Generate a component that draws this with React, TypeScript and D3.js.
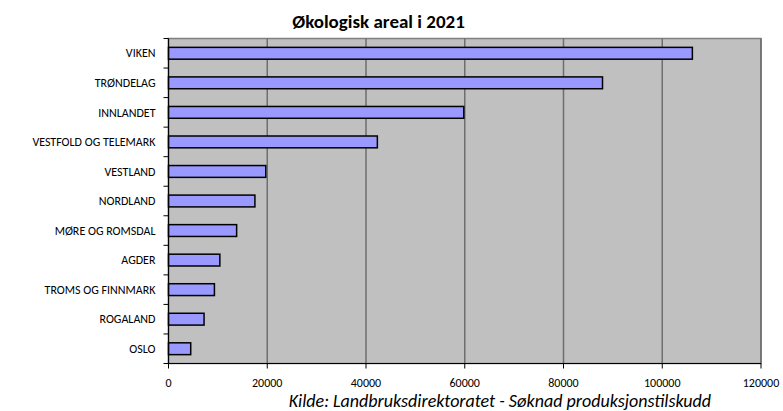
import * as d3 from "d3";
import { useRef, useEffect } from "react";

const regions = [
  "VIKEN",
  "TRØNDELAG",
  "INNLANDET",
  "VESTFOLD OG TELEMARK",
  "VESTLAND",
  "NORDLAND",
  "MØRE OG ROMSDAL",
  "AGDER",
  "TROMS OG FINNMARK",
  "ROGALAND",
  "OSLO",
];
const areal = [106100, 87900, 59800, 42300, 19700, 17500, 13800, 10400, 9300, 7200, 4500];
const xTicks = [0, 20000, 40000, 60000, 80000, 100000, 120000];

const title = "Økologisk areal i 2021";
const source = "Kilde: Landbruksdirektoratet - Søknad produksjonstilskudd";

const width = 783;
const height = 411;
const marginLeft = 168.5;
const marginRight = 22;
const marginTop = 38.5;
const marginBottom = 47.5;
const font = "Calibri, Carlito, 'Open Sans', sans-serif";

export default function App() {
  const ref = useRef<SVGSVGElement | null>(null);

  useEffect(() => {
    const svg = d3.select(ref.current);
    svg.selectAll("*").remove();

    const x = d3.scaleLinear().domain([0, 120000]).range([marginLeft, width - marginRight]);
    const y = d3.scaleBand<string>()
      .domain(regions)
      .range([marginTop, height - marginBottom])
      .paddingInner(0.6)
      .paddingOuter(0.3);
    const step = y.step();

    // plot area
    svg.append("rect")
      .attr("x", x(0))
      .attr("y", marginTop)
      .attr("width", x(120000) - x(0))
      .attr("height", height - marginBottom - marginTop)
      .attr("fill", "#c0c0c0")
      .attr("stroke", "#808080")
      .attr("stroke-width", 1.5);

    // gridlines
    svg.append("g")
      .selectAll("line")
      .data(xTicks.slice(1))
      .join("line")
      .attr("x1", d => x(d))
      .attr("x2", d => x(d))
      .attr("y1", marginTop)
      .attr("y2", height - marginBottom)
      .attr("stroke", "#6e6e6e")
      .attr("stroke-width", 1.5);

    // bars
    svg.append("g")
      .selectAll("rect")
      .data(regions)
      .join("rect")
      .attr("x", x(0))
      .attr("y", d => y(d)!)
      .attr("width", (d, i) => x(areal[i]) - x(0))
      .attr("height", y.bandwidth())
      .attr("fill", "#9999ff")
      .attr("stroke", "#000")
      .attr("stroke-width", 1.5);

    // y axis
    const yAxis = svg.append("g");
    yAxis.append("line")
      .attr("x1", x(0)).attr("x2", x(0))
      .attr("y1", marginTop).attr("y2", height - marginBottom)
      .attr("stroke", "#000").attr("stroke-width", 1.2);
    yAxis.selectAll("line.tick")
      .data(d3.range(regions.length + 1))
      .join("line")
      .attr("class", "tick")
      .attr("x1", x(0) - 5).attr("x2", x(0))
      .attr("y1", i => marginTop + i * step)
      .attr("y2", i => marginTop + i * step)
      .attr("stroke", "#000");
    yAxis.selectAll("text")
      .data(regions)
      .join("text")
      .attr("x", x(0) - 13)
      .attr("y", d => y(d)! + y.bandwidth() / 2)
      .attr("dy", "0.35em")
      .attr("text-anchor", "end")
      .attr("font-family", font)
      .attr("font-size", 12)
      .attr("fill", "#000")
      .text(d => d);

    // x axis
    const xAxis = svg.append("g");
    xAxis.append("line")
      .attr("x1", x(0)).attr("x2", x(120000))
      .attr("y1", height - marginBottom).attr("y2", height - marginBottom)
      .attr("stroke", "#000").attr("stroke-width", 1.2);
    xAxis.selectAll("line.tick")
      .data(xTicks)
      .join("line")
      .attr("class", "tick")
      .attr("x1", d => x(d)).attr("x2", d => x(d))
      .attr("y1", height - marginBottom)
      .attr("y2", height - marginBottom + 5)
      .attr("stroke", "#000");
    xAxis.selectAll("text")
      .data(xTicks)
      .join("text")
      .attr("x", d => x(d))
      .attr("y", height - marginBottom + 19)
      .attr("dy", "0.35em")
      .attr("text-anchor", "middle")
      .attr("font-family", font)
      .attr("font-size", 12)
      .attr("fill", "#000")
      .text(d => String(d));

    svg.append("text")
      .attr("x", 378.5)
      .attr("y", 28)
      .attr("text-anchor", "middle")
      .attr("font-family", font)
      .attr("font-size", 19)
      .attr("font-weight", "bold")
      .attr("fill", "#000")
      .text(title);

    svg.append("text")
      .attr("x", 711)
      .attr("y", 407)
      .attr("text-anchor", "end")
      .attr("font-family", font)
      .attr("font-size", 18)
      .attr("font-style", "italic")
      .attr("fill", "#000")
      .text(source);
  }, []);

  return (
    <svg
      ref={ref}
      width={width}
      height={height}
      style={{ position: "absolute", left: 0, top: 0, background: "#fff" }}
    />
  );
}
